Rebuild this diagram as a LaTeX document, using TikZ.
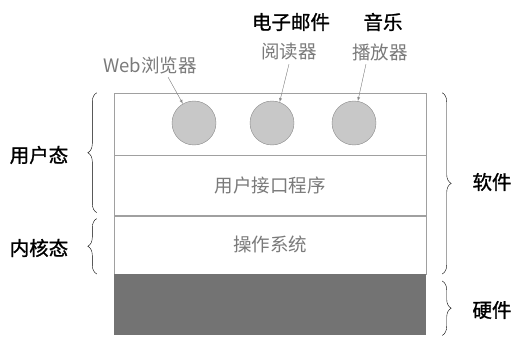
\documentclass[tikz,border=0pt]{standalone}
\usepackage{fontspec}
\setmainfont{Noto Sans CJK SC}
\newfontfamily\heavycjk[FakeBold=1.2]{Noto Sans CJK SC}
\usepackage{tikz}
\usetikzlibrary{positioning,decorations.pathreplacing}
\definecolor{linegrey}{HTML}{A0A0A0}
\definecolor{textgrey}{HTML}{7A7A7A}
\definecolor{ballgrey}{HTML}{C8C8C8}
\definecolor{ballline}{HTML}{8A8A8A}
\definecolor{hwgrey}{HTML}{737373}
\begin{document}
\begin{tikzpicture}[x=1pt,y=-1pt,
		layer/.style={draw=linegrey,fill=white,minimum width=312pt,inner sep=0pt,text=textgrey,font=\fontsize{18.5}{20}\selectfont},
		app/.style={circle,draw=ballline,fill=ballgrey,minimum size=44pt,inner sep=0pt},
		mode/.style={font=\heavycjk\fontsize{19.5}{22}\selectfont},
		applabel/.style={align=center,text=textgrey,font=\fontsize{18.5}{20}\selectfont},
		pointer/.style={-latex,draw=ballline,fill=ballline},
		bracket/.style={decorate,decoration={brace,amplitude=9pt},thin}]
		\useasboundingbox (0,0) rectangle (514,337);
		
		\node[layer, minimum height=62pt] (apps) at (270,124) {};
		\node[layer, minimum height=60pt, below=0pt of apps] (ui) {用户接口程序};
		\node[layer, minimum height=58pt, below=0pt of ui] (os) {操作系统};
		\node[fill=hwgrey, minimum width=312pt, minimum height=61pt, inner sep=0pt, below=0pt of os] (hw) {};
		
		\node[app] (web) at (194,123) {};
		\node[app] (mail) at (272,123) {};
		\node[app] (music) at (354,123) {};
		
		\node[applabel] (weblbl) at (150,65) {Web浏览器};
		\node[mode] (maillbl) at (291,22) {电子邮件};
		\node[applabel] (mailsub) at (289,52) {阅读器};
		\node[mode] (musiclbl) at (383,22) {音乐};
		\node[applabel] (musicsub) at (380,52) {播放器};
		
		\draw[pointer] ([xshift=18pt]weblbl.south) -- (web.120);
		\draw[pointer] (mailsub.south) -- (mail.70);
		\draw[pointer] ([xshift=-14pt]musicsub.south) -- (music.80);
		
		\node[mode] (user) at (39,155) {用户态};
		\node[mode] (kernel) at (39,248) {内核态};
		\node[mode] (soft) at (492,182) {软件};
		\node[mode] (hard) at (492,310) {硬件};
		
		\draw[bracket] ([xshift=-17pt,yshift=3pt]ui.south west) -- ([xshift=-17pt]apps.north west);
		\draw[bracket] ([xshift=-17pt]os.south west) -- ([xshift=-17pt,yshift=-3pt]os.north west);
		\draw[bracket] ([xshift=16pt]apps.north east) -- ([xshift=16pt]os.south east);
		\draw[bracket] ([xshift=16pt,yshift=-7pt]hw.north east) -- ([xshift=16pt]hw.south east);
\end{tikzpicture}
\end{document}
